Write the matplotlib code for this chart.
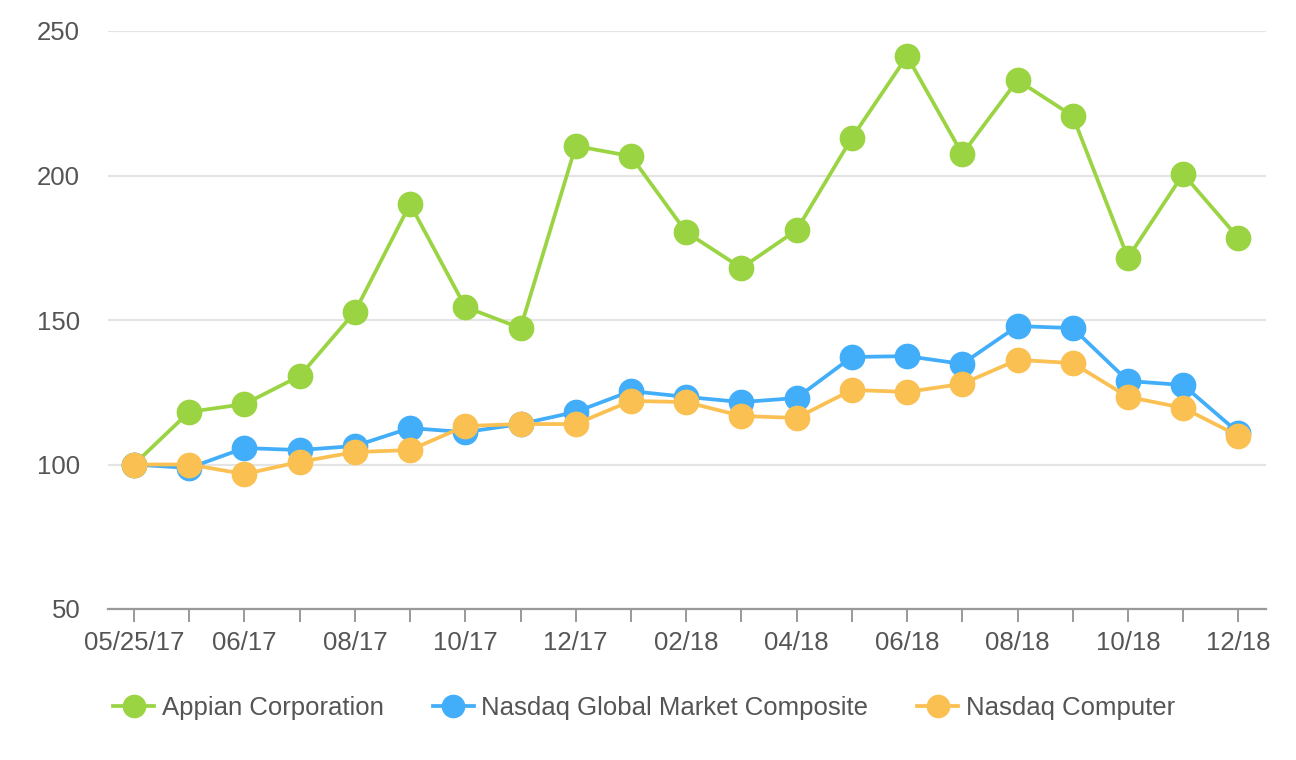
import matplotlib
matplotlib.use("Agg")
import matplotlib.pyplot as plt
from matplotlib.lines import Line2D

plt.rcParams['font.family'] = ['Liberation Sans', 'DejaVu Sans']

x_labels = ["05/25/17", "05/17", "06/17", "07/17", "08/17", "09/17", "10/17", "11/17",
            "12/17", "01/18", "02/18", "03/18", "04/18", "05/18", "06/18", "07/18",
            "08/18", "09/18", "10/18", "11/18", "12/18"]
appian = [100, 118.2, 120.9, 130.6, 152.8, 190.1, 154.5, 147.2, 210.2, 206.7, 180.4,
          168.0, 181.1, 213.0, 241.3, 207.4, 233.0, 220.6, 171.5, 200.5, 178.4]
nasdaq_global = [100, 98.8, 105.7, 105.0, 106.4, 112.6, 111.2, 114.0, 118.2, 125.4, 123.4,
                 121.6, 123.0, 137.2, 137.5, 134.8, 147.9, 147.2, 128.9, 127.5, 111.0]
nasdaq_computer = [100, 100.0, 96.7, 100.9, 104.3, 105.0, 113.3, 114.0, 114.0, 122.0, 121.6,
                   116.8, 116.1, 125.8, 125.1, 127.9, 136.2, 135.1, 123.4, 119.6, 109.9]
series_names = ["Appian Corporation", "Nasdaq Global Market Composite", "Nasdaq Computer"]
colors = ["#9bd443", "#42aefa", "#fac052"]
y_ticks = [50, 100, 150, 200, 250]

fig = plt.figure(figsize=(12.96, 7.6), dpi=100)
ax = fig.add_axes([108/1296, 151/760, 1158/1296, 578/760])

xs = list(range(len(x_labels)))
data = [appian, nasdaq_global, nasdaq_computer]
for vals, c, name in zip(data, colors, series_names):
    ax.plot(xs, vals, color=c, lw=2.7, marker='o', markersize=17.5, label=name,
            solid_joinstyle='round', zorder=3)

ax.set_xlim(-0.47, 20.5)
ax.set_ylim(50, 250)
ax.set_yticks(y_ticks)
ax.set_yticklabels([str(v) for v in y_ticks])
ax.set_xticks(xs)
ax.set_xticklabels([l if i % 2 == 0 else "" for i, l in enumerate(x_labels)])

ax.grid(axis='y', color='#e4e4e4', lw=1.6, zorder=0)
ax.set_axisbelow(True)
for s in ['top', 'right', 'left']:
    ax.spines[s].set_visible(False)
ax.spines['bottom'].set_color('#999999')
ax.spines['bottom'].set_linewidth(1.6)
ax.spines['bottom'].set_zorder(1)
ax.tick_params(axis='x', length=9, width=1.4, color='#999999', labelsize=18.5,
               labelcolor='#555555', pad=7)
ax.tick_params(axis='y', length=0, labelsize=18.5, labelcolor='#555555', pad=20)

handles = [Line2D([0], [0], color=c, lw=2.7, marker='o', markersize=16) for c in colors]
leg = fig.legend(handles, series_names, loc='center', bbox_to_anchor=(0.497, 52/760),
                 ncol=3, frameon=False, fontsize=18.5, handlelength=1.6,
                 handletextpad=0.3, columnspacing=1.9)
for t in leg.get_texts():
    t.set_color('#555555')

fig.savefig("out.png", dpi=100, facecolor='white')
